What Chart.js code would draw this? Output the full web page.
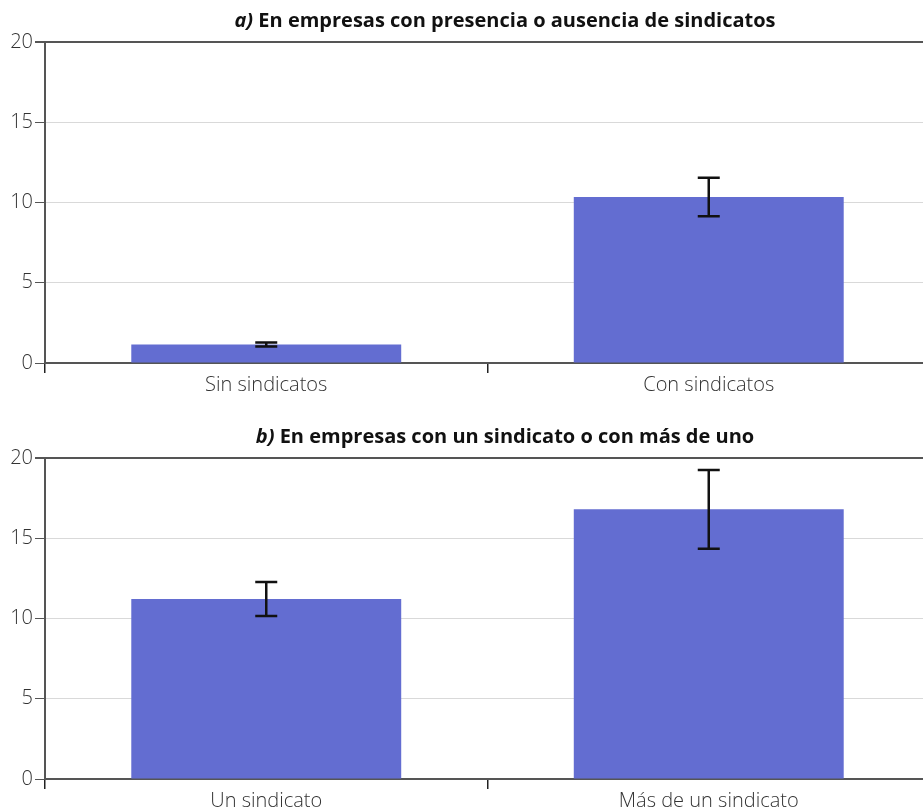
<!DOCTYPE html>
<html>
<head>
<meta charset="utf-8">
<script src="https://cdn.jsdelivr.net/npm/chart.js@4/dist/chart.umd.min.js"></script>
<style>
  html, body { margin: 0; padding: 0; background: #fff; overflow: hidden; width: 923px; height: 811px; }
  .panel { position: absolute; left: 0; width: 930px; }
  #pa { top: 0; height: 405px; }
  #pb { top: 405px; height: 416px; }
</style>
</head>
<body>
<div class="panel" id="pa"><canvas id="ca"></canvas></div>
<div class="panel" id="pb"><canvas id="cb"></canvas></div>
<script>
// ---- Data ----
const categoriesA = ['Sin sindicatos', 'Con sindicatos'];
const valuesA = [1.15, 10.34];
const errorsA = [0.12, 1.2];
const titlePrefixA = 'a)';
const titleA = ' En empresas con presencia o ausencia de sindicatos';

const categoriesB = ['Un sindicato', 'Más de un sindicato'];
const valuesB = [11.21, 16.8];
const errorsB = [1.06, 2.45];
const titlePrefixB = 'b)';
const titleB = ' En empresas con un sindicato o con más de uno';

const yTicks = [0, 5, 10, 15, 20];

// ---- Styles ----
const BAR_COLOR = 'rgb(99,109,209)';
const AXIS_COLOR = '#555555';
const GRID_COLOR = '#d9d9d9';
const FONT = "'Open Sans', 'Noto Sans', sans-serif";

const errorBarPlugin = {
  id: 'errorBars',
  afterDatasetsDraw(chart, args, opts) {
    const ctx = chart.ctx;
    const yScale = chart.scales.y;
    const meta = chart.getDatasetMeta(0);
    const vals = chart.data.datasets[0].data;
    const errs = opts.errors || [];
    ctx.save();
    ctx.strokeStyle = '#111111';
    ctx.lineWidth = 2.5;
    meta.data.forEach((bar, i) => {
      const x = bar.x;
      const yTop = yScale.getPixelForValue(vals[i] + errs[i]);
      const yBot = yScale.getPixelForValue(vals[i] - errs[i]);
      const hw = 11;
      ctx.beginPath();
      ctx.moveTo(x, yTop); ctx.lineTo(x, yBot);
      ctx.moveTo(x - hw, yTop); ctx.lineTo(x + hw, yTop);
      ctx.moveTo(x - hw, yBot); ctx.lineTo(x + hw, yBot);
      ctx.stroke();
    });
    ctx.restore();
  }
};

const panelTitlePlugin = {
  id: 'panelTitle',
  afterDraw(chart, args, opts) {
    const ctx = chart.ctx;
    ctx.save();
    ctx.fillStyle = '#111111';
    ctx.textBaseline = 'middle';
    const fItalic = "italic bold 20px " + FONT;
    const fBold = "bold 20px " + FONT;
    ctx.font = fItalic;
    const w1 = ctx.measureText(opts.prefix).width;
    ctx.font = fBold;
    const w2 = ctx.measureText(opts.text).width;
    const x0 = opts.cx - (w1 + w2) / 2;
    ctx.textAlign = 'left';
    ctx.font = fItalic;
    ctx.fillText(opts.prefix, x0, opts.cy);
    ctx.font = fBold;
    ctx.fillText(opts.text, x0 + w1, opts.cy);
    ctx.restore();
  }
};

function makeChart(canvasId, cats, vals, errs, prefix, title, padTop, titleY) {
  return new Chart(document.getElementById(canvasId), {
    type: 'bar',
    data: {
      labels: cats,
      datasets: [{
        data: vals,
        backgroundColor: BAR_COLOR,
        borderWidth: 0,
        categoryPercentage: 1.0,
        barPercentage: 0.61
      }]
    },
    options: {
      responsive: true,
      maintainAspectRatio: false,
      animation: false,
      layout: { padding: { top: padTop, left: 0, right: 0, bottom: 0 } },
      plugins: {
        legend: { display: false },
        tooltip: { enabled: false },
        title: { display: false },
        errorBars: { errors: errs },
        panelTitle: { prefix: prefix, text: title, cx: 505, cy: titleY }
      },
      scales: {
        x: {
          type: 'category',
          grid: {
            offset: true,
            drawOnChartArea: false,
            drawTicks: true,
            tickLength: 10,
            tickColor: '#222222',
            lineWidth: 1.5
          },
          border: { display: true, color: AXIS_COLOR, width: 2 },
          ticks: {
            color: '#333333',
            font: { family: FONT, size: 20, weight: 300 },
            padding: 0,
            maxRotation: 0
          },
          afterFit(scale) { scale.height = 42; }
        },
        y: {
          min: 0,
          max: 20,
          afterBuildTicks(scale) { scale.ticks = yTicks.map(v => ({ value: v })); },
          grid: {
            drawTicks: true,
            tickLength: 10,
            tickColor: AXIS_COLOR,
            color: ctx => ctx.tick && ctx.tick.value === 20 ? AXIS_COLOR : (ctx.tick && ctx.tick.value === 0 ? 'rgba(0,0,0,0)' : GRID_COLOR),
            lineWidth: ctx => ctx.tick && ctx.tick.value === 20 ? 2 : 1
          },
          border: { display: true, color: AXIS_COLOR, width: 2 },
          ticks: {
            color: '#333333',
            font: { family: FONT, size: 20, weight: 300 },
            padding: 2
          },
          afterFit(scale) { scale.width = 45; }
        }
      }
    },
    plugins: [errorBarPlugin, panelTitlePlugin]
  });
}

makeChart('ca', categoriesA, valuesA, errorsA, titlePrefixA, titleA, 42, 21);
makeChart('cb', categoriesB, valuesB, errorsB, titlePrefixB, titleB, 53, 32);
</script>
</body>
</html>
